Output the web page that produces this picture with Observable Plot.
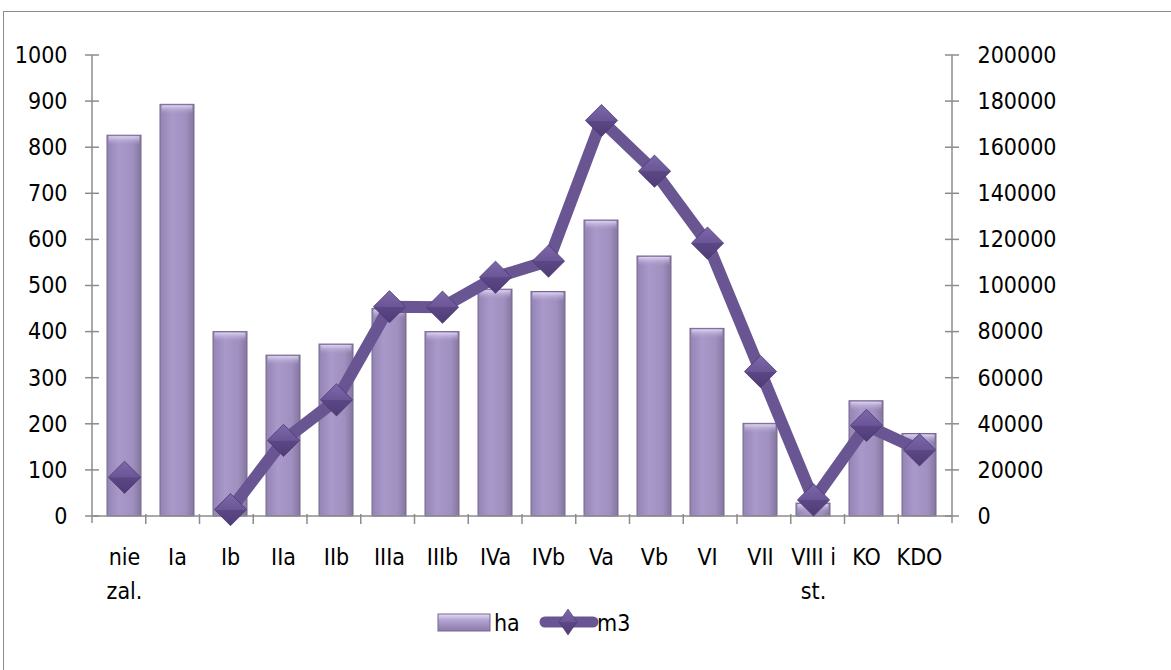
<!DOCTYPE html>
<html>
<head>
<meta charset="utf-8">
<script src="https://cdn.jsdelivr.net/npm/d3@7"></script>
<script src="https://cdn.jsdelivr.net/npm/@observablehq/plot@0.6"></script>
<style>
  body { margin: 0; background: #fff; font-family: "DejaVu Sans Condensed", "DejaVu Sans", sans-serif; }
  #wrap { position: relative; width: 1171px; height: 670px; overflow: hidden; background: #fff; }
  #frame { position: absolute; left: 3px; top: 11px; width: 1300px; height: 800px; border: 1.5px solid #8c8c8c; box-sizing: border-box; }
  #chart { position: absolute; left: 0; top: 0; }
  #legend { position: absolute; left: 0; top: 600px; }
</style>
</head>
<body>
<div id="wrap">
  <div id="frame"></div>
  <div id="chart"></div>
  <div id="legend"></div>
</div>
<script>
// ---- data ----
const categories = ["nie zal.", "Ia", "Ib", "IIa", "IIb", "IIIa", "IIIb", "IVa", "IVb", "Va", "Vb", "VI", "VII", "VIII i st.", "KO", "KDO"];
const categoryLabels = ["nie\nzal.", "Ia", "Ib", "IIa", "IIb", "IIIa", "IIIb", "IVa", "IVb", "Va", "Vb", "VI", "VII", "VIII i\nst.", "KO", "KDO"];
const ha = [826, 893, 400, 349, 373, 450, 400, 492, 487, 642, 564, 407, 201, 28, 250, 179];
const m3 = [17000, null, 3000, 33000, 50600, 91000, 90800, 103800, 110800, 171800, 149800, 118600, 62900, 7200, 39500, 28900];
const leftTicks = [0, 100, 200, 300, 400, 500, 600, 700, 800, 900, 1000];
const rightTicks = [0, 20000, 40000, 60000, 80000, 100000, 120000, 140000, 160000, 180000, 200000];
const seriesNames = ["ha", "m3"];

const rightMax = 200000, leftMax = 1000;
const ratio = rightMax / leftMax;

const data = categories.map((c, i) => ({cat: c, label: categoryLabels[i], ha: ha[i], m3: m3[i]}));
const pts = data.filter(d => d.m3 != null);

const FONT = '"DejaVu Sans Condensed", "DejaVu Sans", sans-serif';

const defs = () => {
  const d = d3.create("svg:defs");
  const g = d.append("linearGradient").attr("id", "barGrad").attr("x1", 0).attr("x2", 1).attr("y1", 0).attr("y2", 0);
  g.append("stop").attr("offset", "0%").attr("stop-color", "#9484b4");
  g.append("stop").attr("offset", "35%").attr("stop-color", "#a999ca");
  g.append("stop").attr("offset", "75%").attr("stop-color", "#9f90c0");
  g.append("stop").attr("offset", "100%").attr("stop-color", "#85769f");
  const t = d.append("linearGradient").attr("id", "topGrad").attr("x1", 0).attr("x2", 0).attr("y1", 0).attr("y2", 1);
  t.append("stop").attr("offset", "0%").attr("stop-color", "#e4daf6").attr("stop-opacity", 0.9);
  t.append("stop").attr("offset", "100%").attr("stop-color", "#a999ca").attr("stop-opacity", 0);
  const m = d.append("linearGradient").attr("id", "diaGrad").attr("x1", 0).attr("x2", 0).attr("y1", 0).attr("y2", 1);
  m.append("stop").attr("offset", "0%").attr("stop-color", "#7e68aa");
  m.append("stop").attr("offset", "50%").attr("stop-color", "#6a5596");
  m.append("stop").attr("offset", "51%").attr("stop-color", "#5b4785");
  m.append("stop").attr("offset", "100%").attr("stop-color", "#4f3c76");
  return d.node();
};

const axesLines = (index, scales, values, dims) => {
  const {width, marginLeft: ml, marginRight: mr} = dims;
  const x0 = ml, x1 = width - mr;
  const yb = scales.y(0), yt = scales.y(leftMax);
  const g = d3.create("svg:g").attr("stroke", "#8c8c8c").attr("stroke-width", 1.5).attr("fill", "none");
  g.append("line").attr("x1", x0).attr("x2", x1).attr("y1", yb).attr("y2", yb);
  g.append("line").attr("x1", x0).attr("x2", x0).attr("y1", yt).attr("y2", yb + 7);
  g.append("line").attr("x1", x1).attr("x2", x1).attr("y1", yt).attr("y2", yb + 7);
  for (const t of leftTicks) {
    const y = scales.y(t);
    g.append("line").attr("x1", x0 - 7).attr("x2", x0 + 7).attr("y1", y).attr("y2", y);
    g.append("line").attr("x1", x1 - 7).attr("x2", x1 + 7).attr("y1", y).attr("y2", y);
  }
  const n = categories.length;
  for (let k = 1; k < n; k++) {
    const x = x0 + k * (x1 - x0) / n;
    g.append("line").attr("x1", x).attr("x2", x).attr("y1", yb - 2).attr("y2", yb + 8);
  }
  return g.node();
};

const chart = Plot.plot({
  width: 1171,
  height: 600,
  marginLeft: 92,
  marginRight: 219,
  marginTop: 55,
  marginBottom: 84,
  x: {domain: categories, paddingInner: 0.35, paddingOuter: 0.175, axis: null},
  y: {domain: [0, leftMax], axis: null},
  style: {fontFamily: FONT, fontSize: "23px", color: "#000", background: "transparent", overflow: "visible"},
  marks: [
    defs,
    Plot.barY(data, {x: "cat", y: "ha", fill: "url(#barGrad)", stroke: "#76688f", strokeWidth: 1}),
    Plot.rectY(data, {x: "cat", y1: "ha", y2: d => Math.max(0, d.ha - 22), fill: "url(#topGrad)", insetLeft: 1.5, insetRight: 1.5, insetTop: 1}),
    axesLines,
    Plot.axisY({anchor: "left", label: null, ticks: leftTicks, tickSize: 0, tickPadding: 25, fontSize: 23, fill: "#000", tickFormat: d => String(d)}),
    Plot.axisY({anchor: "right", label: null, ticks: leftTicks, tickSize: 0, tickPadding: 25, fontSize: 23, fill: "#000", tickFormat: d => String(d * ratio)}),
    Plot.line(data, {x: "cat", y: d => d.m3 == null ? NaN : d.m3 / ratio, stroke: "#6a5593", strokeWidth: 12, strokeLinejoin: "round"}),
    Plot.dot(pts, {x: "cat", y: d => d.m3 / ratio, symbol: "diamond2", r: 14.5, fill: "url(#diaGrad)", stroke: "#4a3870", strokeWidth: 0.8}),
    Plot.text(data, {x: "cat", y: () => 0, text: "label", lineAnchor: "top", dy: 24, lineHeight: 1.48, fontSize: 23, fill: "#000"})
  ]
});
document.getElementById("chart").appendChild(chart);

// ---- legend ----
const lg = d3.select("#legend").append("svg").attr("width", 1171).attr("height", 70)
  .style("font-family", FONT).style("font-size", "23px");
const ld = lg.append("defs");
const lgGrad = ld.append("linearGradient").attr("id", "lgBar").attr("x1", 0).attr("x2", 0).attr("y1", 0).attr("y2", 1);
lgGrad.append("stop").attr("offset", "0%").attr("stop-color", "#e6ddf6");
lgGrad.append("stop").attr("offset", "35%").attr("stop-color", "#b3a4d4");
lgGrad.append("stop").attr("offset", "100%").attr("stop-color", "#8a7bab");
lg.append("rect").attr("x", 438).attr("y", 14).attr("width", 52).attr("height", 17)
  .attr("fill", "url(#lgBar)").attr("stroke", "#76688f");
lg.append("text").attr("x", 494).attr("y", 31).text(seriesNames[0]);
lg.append("line").attr("x1", 545).attr("x2", 593).attr("y1", 22).attr("y2", 22)
  .attr("stroke", "#6a5593").attr("stroke-width", 11).attr("stroke-linecap", "round");
lg.append("path").attr("d", "M568,9 L577,22 L568,35 L559,22 Z").attr("fill", "url(#diaGrad)").attr("stroke", "#4a3870").attr("stroke-width", 0.6);
lg.append("text").attr("x", 597).attr("y", 31).text(seriesNames[1]);
</script>
</body>
</html>
